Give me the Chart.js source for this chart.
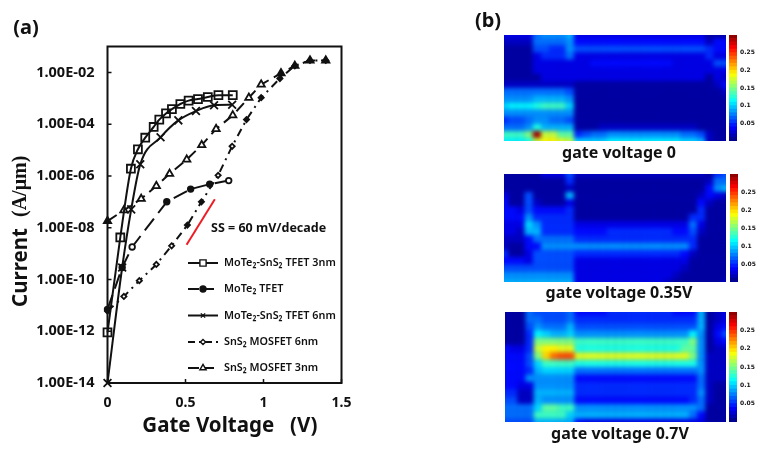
<!DOCTYPE html>
<html><head><meta charset="utf-8">
<style>
html,body{margin:0;padding:0;background:#fff}
#page{position:relative;width:763px;height:450px;overflow:hidden;font-family:"Noto Sans",sans-serif;color:#111}
.abs{position:absolute}
.heat{position:absolute;overflow:hidden;background:#00008a}
.heat canvas{position:absolute;left:-4px;top:-4px;filter:blur(2px)}
.cap{position:absolute;font-weight:700;font-size:16px;white-space:nowrap;transform:translate(-50%,-50%)}
.tag{position:absolute;font-weight:700;font-size:20px;white-space:nowrap;transform:translate(-50%,-50%)}
</style>
<script src="https://cdn.jsdelivr.net/npm/chart.js@4"></script>
</head><body>
<div id="page">
<canvas id="main" width="763" height="450" class="abs" style="left:0;top:0"></canvas>
<div class="tag" style="left:26px;top:26px">(a)</div>
<div class="tag" style="left:488px;top:19px">(b)</div>
</div>
<script>
const tickValues = [1e-14,1e-12,1e-10,1e-8,1e-6,1e-4,1e-2];
const seriesNames = ["MoTe₂-SnS₂ TFET 3nm","MoTe₂ TFET","MoTe₂-SnS₂ TFET 6nm","SnS₂ MOSFET 6nm","SnS₂ MOSFET 3nm"];

const tfet3V = [0,0.082,0.15,0.195,0.242,0.296,0.332,0.375,0.413,0.467,0.52,0.58,0.643,0.711,0.803];
const tfet3I = [9e-13,4.2e-9,1.9e-6,1.07e-5,3e-5,7.8e-5,1.5e-4,2.6e-4,3.8e-4,6e-4,8.1e-4,9.3e-4,1.12e-3,1.32e-3,1.32e-3];
const moteV = [0,0.094,0.158,0.38,0.533,0.655,0.777];
const moteI = [7e-12,2.9e-10,1.8e-9,1e-7,3.1e-7,4.8e-7,6.6e-7];
const tfet6V = [0,0.094,0.152,0.21,0.34,0.454,0.567,0.683,0.799];
const tfet6I = [1e-14,2.9e-10,5.1e-8,2.8e-6,3.1e-5,1.4e-4,3.2e-4,5.4e-4,5.6e-4];
const mos6V = [0,0.105,0.204,0.313,0.411,0.512,0.602,0.709,0.799,0.891,0.985,1.105,1.201,1.298,1.399];
const mos6I = [6e-12,2.2e-11,9e-11,3.8e-10,2e-9,1.26e-8,1e-7,1.05e-6,1.4e-5,1.5e-4,1.05e-3,5.8e-3,1.8e-2,2.9e-2,2.9e-2];
const mos3V = [0,0.105,0.216,0.313,0.398,0.508,0.604,0.696,0.803,0.906,0.985,1.112,1.201,1.298,1.399];
const mos3I = [1.8e-8,4.7e-8,1.3e-7,4.1e-7,1.2e-6,4.3e-6,1.55e-5,6.5e-5,2.2e-4,1.05e-3,3.4e-3,9.3e-3,1.8e-2,2.9e-2,2.9e-2];
const ssV = [0.507,0.688];
const ssI = [2.2e-9,1.26e-7];

// Heat maps: rows top to bottom, values in hundredths of the colour-bar unit
const heat0 = [
[3,3,3,3,7,8,8,8,9,3,3,3,3,3,3,3,3,3,3,3,3,3,3,3,3,1,1,1],
[2,2,2,2,7,7,7,7,8,4,4,4,4,4,4,4,4,4,4,4,4,4,4,4,4,2,4,4],
[1,1,1,1,6,6,5,5,8,6,6,6,6,6,6,6,6,6,6,6,6,6,6,6,6,5,4,4],
[1,1,1,1,3,5,5,5,7,3,3,3,3,3,3,3,3,3,3,3,3,3,3,3,3,5,3,3],
[1,1,1,1,3,3,3,3,3,3,3,4,4,4,4,4,4,4,4,4,4,3,3,3,3,3,6,6],
[1,1,1,1,3,3,3,3,3,3,3,3,3,3,3,3,3,3,3,3,3,3,3,3,3,3,3,3],
[1,1,1,1,1,3,3,3,3,3,3,3,3,3,3,3,3,3,3,3,3,3,3,3,3,1,3,2],
[2,2,2,2,2,2,2,2,2,1,1,1,1,1,1,1,1,1,1,1,1,1,1,1,1,1,2,4],
[7,7,7,7,7,7,7,7,6,1,1,1,1,1,1,1,1,1,1,1,1,1,1,1,1,1,1,2],
[8,8,8,8,9,9,9,9,8,1,1,1,1,1,1,1,1,1,1,1,1,1,1,1,1,1,1,1],
[10,11,11,11,12,13,13,13,10,1,1,1,1,1,1,1,1,1,1,1,1,1,1,1,1,1,1,1],
[8,8,8,8,8,8,8,8,8,1,1,1,1,1,1,1,1,1,1,1,1,1,1,1,1,1,1,1],
[5,6,6,7,8,8,7,7,6,1,1,1,1,1,1,1,1,1,1,1,1,1,1,1,1,1,1,1],
[7,7,7,8,12,9,9,9,9,1,1,1,2,2,2,2,2,2,2,2,2,2,2,2,1,1,1,1],
[13,13,13,15,29,17,17,14,14,5,6,7,7,8,8,8,8,8,8,8,8,8,7,7,6,2,1,1],
[11,11,11,12,17,19,19,18,17,10,10,10,10,11,11,11,11,11,11,11,11,11,10,10,9,2,1,1]];
const heat1 = [
[1,1,1,1,1,3,3,3,6,2,2,2,2,2,2,2,2,2,2,2,2,2,2,2,2,1,5,6],
[1,1,1,1,1,1,1,1,5,1,1,1,1,1,1,1,1,1,1,1,1,1,1,1,1,2,7,7],
[1,1,1,1,1,1,1,1,2,1,1,1,1,1,1,1,1,1,1,1,1,1,1,1,1,4,8,9],
[3,1,1,6,1,1,1,1,9,1,1,1,1,1,1,1,1,1,1,1,1,1,1,1,2,4,3,2],
[4,1,1,6,2,1,1,1,3,1,1,1,1,1,1,1,1,1,1,1,1,1,1,1,4,2,1,1],
[4,4,3,6,4,4,4,4,5,1,1,1,1,1,1,1,1,1,1,1,1,1,1,1,5,1,1,1],
[4,4,4,8,5,5,5,5,5,1,1,1,1,1,1,1,1,1,1,1,1,1,1,5,5,1,1,1],
[3,3,3,10,8,5,5,5,5,3,3,3,3,3,3,3,3,3,3,3,3,3,3,7,3,1,1,1],
[3,3,2,9,9,5,5,5,5,4,4,4,4,5,5,5,5,5,5,5,5,4,4,6,2,1,1,1],
[2,2,2,4,7,7,7,7,7,5,5,5,5,5,5,5,5,5,5,5,5,5,5,5,1,1,1,1],
[2,1,1,4,4,8,8,8,8,8,8,8,8,8,8,8,8,8,8,8,8,8,8,5,1,1,1,1],
[5,1,1,3,6,6,6,6,6,5,5,5,5,5,5,5,5,5,5,5,5,5,4,2,1,1,1,1],
[4,4,4,3,6,6,6,6,6,3,3,3,3,3,3,3,3,3,3,3,3,3,3,1,1,1,1,1],
[6,6,6,6,6,6,6,6,6,3,3,3,3,3,3,3,3,3,3,3,3,3,2,1,1,1,1,1],
[8,8,8,8,8,8,8,8,8,3,3,3,3,3,3,3,3,3,3,3,3,2,1,1,1,1,1,1],
[9,9,9,9,9,9,9,9,9,3,3,3,3,3,3,3,3,3,3,3,2,1,1,1,1,1,1,2]];
const heat2 = [
[1,1,1,7,6,6,6,6,7,4,4,4,4,5,5,5,5,5,5,5,5,4,4,4,9,1,2,3],
[1,1,1,7,7,6,6,6,7,5,5,5,5,5,5,5,5,5,5,5,5,5,5,5,9,1,2,3],
[1,1,1,6,8,7,7,7,9,6,6,6,6,6,6,6,6,6,6,6,6,6,6,6,9,1,3,4],
[1,1,1,5,11,10,9,9,10,8,8,8,8,8,8,8,8,8,8,8,8,8,8,11,8,1,4,6],
[1,1,1,5,15,15,15,15,15,13,13,13,13,13,13,13,13,13,13,13,13,13,13,15,8,1,3,4],
[4,3,3,5,17,19,19,18,18,12,12,12,12,12,12,12,12,12,12,12,12,12,14,14,8,1,2,2],
[4,4,4,6,15,20,23,24,24,18,18,18,18,18,18,18,18,18,18,18,18,18,18,15,8,2,2,2],
[4,4,4,6,10,13,13,13,13,12,12,12,12,12,12,12,12,12,12,12,12,12,12,12,8,2,2,2],
[4,4,4,5,9,10,10,10,10,7,7,7,7,7,7,7,7,7,7,7,7,7,7,7,8,2,2,2],
[4,4,4,8,8,8,8,8,8,4,4,4,4,4,4,4,4,4,4,4,4,4,4,4,7,2,2,2],
[4,4,3,3,8,8,8,8,8,5,5,5,5,5,5,5,5,5,5,5,5,5,5,5,7,2,1,1],
[5,5,2,2,9,9,9,9,9,5,5,5,5,5,5,5,5,5,5,5,5,5,5,5,8,2,1,1],
[6,6,2,2,9,8,8,8,8,4,4,4,4,4,4,4,4,4,4,4,4,4,4,5,7,2,1,1],
[7,7,7,7,10,14,14,13,13,8,8,8,8,8,8,8,8,8,8,8,8,8,8,8,7,1,1,1],
[7,7,7,7,13,13,13,13,10,9,9,9,9,9,9,9,9,9,9,9,9,9,9,7,4,1,1,1],
[6,6,6,6,9,9,9,9,9,4,3,3,3,3,3,3,3,3,3,3,3,3,3,3,3,1,1,1]];
const barLevels = [0,1,2,3,4,5,6,7,8,9,10,11,12,13,14,15,16,17,18,19,20,21,22,23,24,25,26,27,28,29];
const barTicks = [0.05,0.1,0.15,0.2,0.25];
const captions = ["gate voltage 0","gate voltage 0.35V","gate voltage 0.7V"];

const panelBoxes = [
  {x:504,y:35,w:222,h:106,cx:619,cy:152,bx:729,by:35,bh:106},
  {x:504,y:174,w:222,h:108,cx:619,cy:292,bx:730,by:174,bh:108},
  {x:505,y:312,w:221,h:110,cx:620,cy:433,bx:729,by:312,bh:110}
];

function jet(h){
  const t=Math.max(0,Math.min(1,h/30));
  const f=c=>Math.round(255*Math.max(0,Math.min(1,1.5-Math.abs(4*t-c))));
  return `rgb(${f(3)},${f(2)},${f(1)})`;
}

function pts(xs,ys){return xs.map((x,i)=>({x,y:ys[i]}));}
const filledMote=[0,1,3,4,5];
const filledD=[5,6,9,10,11,12,13,14];
const filledT=[0,11,12,13,14];
const ink='#111';
const mainStyles=[
 {pointStyle:'rect',pointRadius:5.6,borderDash:[],legendR:4.4,fill:()=>'rgba(0,0,0,0)',mono:true},
 {pointStyle:'circle',pointRadius:2.8,borderDash:[15,7],legendR:3,fill:c=>filledMote.includes(c.dataIndex)?ink:'#fff'},
 {pointStyle:'crossRot',pointRadius:5.5,borderDash:[],legendR:3,fill:()=>ink,mono:true},
 {pointStyle:'rectRot',pointRadius:2.6,borderDash:[8,5,2,5],legendR:2.6,fill:c=>filledD.includes(c.dataIndex)?ink:'#fff'},
 {pointStyle:'triangle',pointRadius:4.2,borderDash:[11,6],legendR:3.6,fill:c=>filledT.includes(c.dataIndex)?ink:'#fff'}
];
const mainData=[pts(tfet3V,tfet3I),pts(moteV,moteI),pts(tfet6V,tfet6I),pts(mos6V,mos6I),pts(mos3V,mos3I)];
const datasets=mainData.map((d,i)=>({
  label:seriesNames[i],data:d,borderColor:ink,borderWidth:2,
  borderDash:mainStyles[i].borderDash,pointStyle:mainStyles[i].pointStyle,
  pointRadius:mainStyles[i].pointRadius,pointBorderWidth:1.8,pointBorderColor:ink,
  pointBackgroundColor:mainStyles[i].fill,showLine:true,clip:false,
  cubicInterpolationMode:mainStyles[i].mono?'monotone':'default',tension:0
}));
datasets.push({label:'SS = 60 mV/decade',data:pts(ssV,ssI),borderColor:'#ee1c25',borderWidth:2,pointRadius:0,showLine:true,clip:false});

const framePlugin={id:'frame',afterDraw(ch){
  const {ctx,chartArea:a,scales:{x,y}}=ch;
  ctx.save();
  ctx.strokeStyle=ink;ctx.lineWidth=2;ctx.strokeRect(a.left,a.top,a.right-a.left,a.bottom-a.top);
  ctx.lineWidth=1.5;ctx.beginPath();
  x.ticks.forEach(t=>{const p=x.getPixelForValue(t.value);ctx.moveTo(p,a.bottom);ctx.lineTo(p,a.bottom-4);});
  y.ticks.forEach(t=>{const p=y.getPixelForValue(t.value);ctx.moveTo(a.left,p);ctx.lineTo(a.left+4,p);});
  ctx.stroke();
  // y axis title
  ctx.translate(21,0);ctx.rotate(-Math.PI/2);ctx.fillStyle=ink;ctx.textBaseline='middle';ctx.textAlign='left';
  ctx.font='700 20.5px "Noto Sans"';ctx.fillText('Current',-307,0);
  ctx.font='700 20px "Liberation Serif"';ctx.fillText('(A/μm)',-217,0);
  ctx.setTransform(1,0,0,1,0,0);
  // annotation
  ctx.fillStyle=ink;ctx.textAlign='left';ctx.textBaseline='middle';
  ctx.font='700 12.5px "Noto Sans"';ctx.fillText('SS = 60 mV/decade',211,228);
  // legend
  const ys=[263,289,315.5,342,368];
  ys.forEach((yy,i)=>{
    const s=mainStyles[i];
    ctx.save();ctx.strokeStyle=ink;ctx.lineWidth=2;ctx.setLineDash(s.borderDash.length?(i===3?[7,4,2,4]:[11,4]):[]);
    ctx.beginPath();ctx.moveTo(188,yy);ctx.lineTo(218,yy);ctx.stroke();ctx.setLineDash([]);
    ctx.fillStyle=i===0||i===3||i===4?'#fff':ink;ctx.lineWidth=1.4;
    Chart.helpers.drawPoint(ctx,{pointStyle:s.pointStyle,radius:s.legendR,rotation:0,borderWidth:1.4},203,yy);
    ctx.restore();
    ctx.font='600 10.8px "Noto Sans"';ctx.fillStyle=ink;
    ctx.fillText(seriesNames[i],224,yy);
  });
  ctx.restore();
}};

new Chart(document.getElementById('main'),{
  type:'scatter',data:{datasets},plugins:[framePlugin],
  options:{responsive:false,animation:false,devicePixelRatio:1,
    layout:{padding:{left:0,top:46.5,right:421.5,bottom:0}},
    plugins:{legend:{display:false},tooltip:{enabled:false},title:{display:false}},
    scales:{
      x:{type:'linear',min:0,max:1.5,grid:{display:false,drawTicks:false},border:{display:false},
        afterFit(s){s.height=67;},
        ticks:{stepSize:0.5,padding:12,color:ink,font:{family:'"Noto Sans"',size:14,weight:'700'},maxRotation:0,callback:v=>String(v)},
        title:{display:true,text:'  Gate Voltage   (V)',color:ink,font:{family:'"Noto Sans"',size:20.5,weight:'700'},padding:{top:0,bottom:12}}},
      y:{type:'logarithmic',min:1e-14,max:1e-1,grid:{display:false,drawTicks:false},border:{display:false},
        afterFit(s){s.width=107.5;},
        afterBuildTicks(s){s.ticks=tickValues.map(v=>({value:v}));},
        ticks:{padding:13,color:ink,font:{family:'"Noto Sans"',size:14.5,weight:'700'},autoSkip:false,
          callback:v=>{const e=Math.round(-Math.log10(v));return '1.00E-'+(e<10?'0':'')+e;}}}
    }}
});

const page=document.getElementById('page');
[heat0,heat1,heat2].forEach((grid,idx)=>{
  const b=panelBoxes[idx];
  const wrap=document.createElement('div');wrap.className='heat';
  wrap.style.cssText=`left:${b.x}px;top:${b.y}px;width:${b.w}px;height:${b.h}px`;
  const cv=document.createElement('canvas');cv.width=b.w+8;cv.height=b.h+8;wrap.appendChild(cv);page.appendChild(wrap);
  const cols=grid[0].map((_,i)=>i);
  new Chart(cv,{type:'bar',
    data:{labels:cols,datasets:grid.map((row,r)=>({
      data:row.map((v,c)=>({x:c,y:[r,r+1],v})),
      backgroundColor:row.map(v=>jet(v)),borderWidth:0,grouped:false,barPercentage:1.02,categoryPercentage:1
    }))},
    options:{responsive:false,animation:false,devicePixelRatio:1,layout:{padding:0},
      parsing:{xAxisKey:'x',yAxisKey:'y'},
      plugins:{legend:{display:false},tooltip:{enabled:false}},
      scales:{x:{display:false,type:'category'},y:{display:false,reverse:true,min:0,max:grid.length}}}
  });
  const bw=document.createElement('canvas');bw.width=34;bw.height=b.bh;bw.className='abs';
  bw.style.left=b.bx+'px';bw.style.top=b.by+'px';page.appendChild(bw);
  new Chart(bw,{type:'bar',
    data:{labels:['c'],datasets:barLevels.map(l=>({data:[[l/100,(l+1.02)/100]],backgroundColor:jet(l+0.5),borderWidth:0,grouped:false,barPercentage:1,categoryPercentage:1}))},
    options:{responsive:false,animation:false,devicePixelRatio:1,layout:{padding:0},
      plugins:{legend:{display:false},tooltip:{enabled:false}},
      scales:{x:{display:false},
        y:{position:'right',min:0,max:0.3,grid:{display:false,drawTicks:false},border:{display:false},
          afterFit(s){s.width=26;s.paddingTop=0;s.paddingBottom=0;},
          afterBuildTicks(s){s.ticks=barTicks.map(v=>({value:v}));},
          ticks:{padding:3,color:ink,font:{family:'"DejaVu Sans"',size:6,weight:'700'},autoSkip:false,callback:v=>String(v)}}}}
  });
  const cap=document.createElement('div');cap.className='cap';cap.textContent=captions[idx];
  cap.style.left=b.cx+'px';cap.style.top=b.cy+'px';page.appendChild(cap);
});
</script>
</body></html>
